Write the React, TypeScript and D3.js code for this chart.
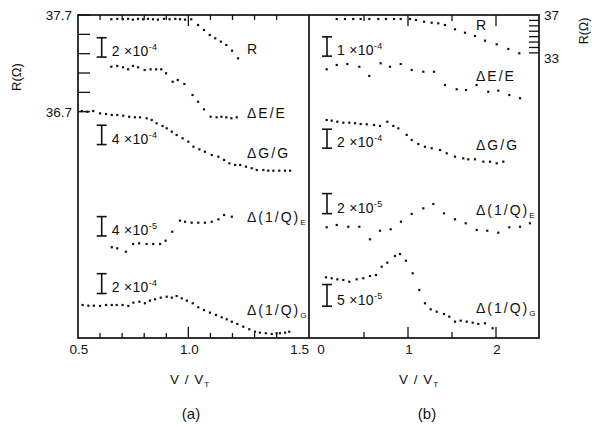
import React from "react";
import * as d3 from "d3";

// ---- Panel (a): x = V/VT, y plotted in R(Ω) axis units (curves stacked) ----
const aR_x = [0.651,0.678,0.704,0.727,0.749,0.772,0.795,0.817,0.840,0.862,0.890,0.915,0.941,0.962,0.985,1.013,1.044,1.071,1.097,1.122,1.147,1.172,1.198,1.225];
const aR_y = [37.656,37.660,37.656,37.660,37.652,37.660,37.656,37.660,37.656,37.652,37.660,37.656,37.660,37.656,37.652,37.656,37.597,37.545,37.493,37.459,37.424,37.390,37.331,37.252];

const aE_x = [0.651,0.678,0.704,0.727,0.749,0.772,0.802,0.829,0.854,0.877,0.899,0.929,0.952,0.982,1.019,1.044,1.071,1.101,1.128,1.150,1.172,1.195,1.219];
const aE_y = [37.165,37.173,37.159,37.138,37.173,37.159,37.131,37.138,37.138,37.138,37.097,37.010,37.028,36.986,36.873,36.803,36.725,36.648,36.642,36.648,36.642,36.632,36.642];

const aG_x = [0.517,0.542,0.569,0.600,0.627,0.653,0.678,0.705,0.732,0.758,0.781,0.811,0.834,0.856,0.883,0.902,0.925,0.947,0.974,1.000,1.023,1.050,1.075,1.106,1.136,1.162,1.186,1.212,1.235,1.261,1.287,1.310,1.340,1.362,1.385,1.412,1.438,1.461];
const aG_y = [36.707,36.700,36.707,36.683,36.676,36.666,36.666,36.659,36.648,36.642,36.642,36.632,36.614,36.580,36.552,36.528,36.493,36.459,36.425,36.390,36.338,36.311,36.286,36.252,36.235,36.201,36.166,36.149,36.149,36.131,36.115,36.097,36.097,36.090,36.090,36.090,36.090,36.090];

const aQE_x = [0.653,0.678,0.717,0.750,0.777,0.811,0.841,0.872,0.897,0.927,0.962,0.985,1.015,1.045,1.075,1.106,1.136,1.162,1.197];
const aQE_y = [35.298,35.287,35.252,35.332,35.339,35.332,35.332,35.332,35.366,35.459,35.573,35.562,35.552,35.552,35.552,35.562,35.587,35.632,35.614];

const aQG_x = [0.521,0.547,0.572,0.600,0.627,0.653,0.675,0.702,0.728,0.751,0.778,0.803,0.826,0.849,0.875,0.902,0.925,0.947,0.970,0.993,1.020,1.045,1.071,1.098,1.125,1.151,1.174,1.197,1.222,1.249,1.276,1.302,1.324,1.351,1.378,1.400,1.415,1.438,1.457];
const aQG_y = [34.701,34.694,34.694,34.691,34.701,34.701,34.701,34.701,34.691,34.725,34.735,34.719,34.746,34.760,34.777,34.787,34.777,34.794,34.770,34.746,34.719,34.677,34.649,34.622,34.598,34.574,34.553,34.528,34.505,34.477,34.450,34.425,34.415,34.409,34.401,34.409,34.409,34.415,34.425];

// ---- Panel (b) ----
const bR_x = [0.190,0.284,0.378,0.462,0.560,0.663,0.750,0.841,0.917,1.023,1.091,1.182,1.269,1.344,1.420,1.534,1.648,1.761,1.875,2.008,2.140,2.265];
const bR_y = [36.630,36.630,36.630,36.630,36.630,36.630,36.630,36.630,36.630,36.630,36.538,36.381,36.289,36.233,36.076,35.679,35.365,35.060,34.626,34.293,33.859,33.462];

const bE_x = [0.076,0.190,0.311,0.447,0.560,0.690,0.795,0.917,1.042,1.174,1.295,1.420,1.553,1.659,1.780,1.912,2.026,2.151,2.273];
const bE_y = [31.98,32.38,32.47,32.22,31.37,32.54,32.22,32.47,31.92,31.76,31.76,30.53,30.14,30.07,30.53,29.91,30.01,29.61,29.31];

const bG_x = [0.076,0.133,0.197,0.265,0.333,0.398,0.462,0.531,0.614,0.682,0.765,0.833,0.890,0.985,1.042,1.117,1.193,1.269,1.364,1.440,1.534,1.628,1.685,1.761,1.856,1.932,2.008,2.083];
const bG_y = [27.30,27.24,27.14,27.05,27.05,27.00,26.93,26.90,26.84,26.75,27.14,26.75,26.53,25.92,25.45,25.08,24.83,24.69,24.53,24.22,23.91,23.76,23.67,23.67,23.45,23.45,23.30,23.45];

const bQE_x = [0.076,0.190,0.322,0.447,0.568,0.682,0.803,0.920,1.042,1.174,1.288,1.409,1.534,1.656,1.781,1.901,2.026,2.151,2.273,2.386];
const bQE_y = [17.39,17.60,17.44,17.44,16.28,17.07,17.20,17.91,18.62,19.14,19.54,18.68,18.13,17.76,17.14,17.07,16.89,17.39,17.44,17.76];

const bQG_x = [0.068,0.133,0.197,0.265,0.333,0.417,0.492,0.568,0.636,0.701,0.765,0.852,0.909,0.977,1.053,1.128,1.193,1.258,1.326,1.409,1.469,1.534,1.599,1.667,1.735,1.799,1.875,1.962];
const bQG_y = [12.77,12.68,12.58,12.52,12.36,12.58,12.68,12.89,12.98,13.75,14.12,14.74,14.92,14.30,13.14,11.60,10.37,9.81,9.59,9.38,9.13,8.67,8.76,8.67,8.58,8.46,8.52,8.06];

// tick labels
const aXTickLabels = ["0.5", "1.0", "1.5"];
const aXTickValues = [0.5, 1.0, 1.5];
const bXTickLabels = ["0", "1", "2"];
const bXTickValues = [0, 1, 2];
const aYTickLabels = ["37.7", "36.7"];
const aYTickValues = [37.7, 36.7];
const bYTickLabels = ["37", "33"];
const bYTickValues = [37, 33];

// scale-bar annotations: [label mantissa, exponent], bar top/bottom in axis units
const aBars = [
  { m: "2", e: "-4", top: 37.465, bot: 37.265 },
  { m: "4", e: "-4", top: 36.560, bot: 36.360 },
  { m: "4", e: "-5", top: 35.615, bot: 35.415 },
  { m: "2", e: "-4", top: 35.025, bot: 34.820 },
];
const bBars = [
  { m: "1", e: "-4", top: 34.98, bot: 33.20 },
  { m: "2", e: "-4", top: 26.45, bot: 24.70 },
  { m: "2", e: "-5", top: 20.50, bot: 18.65 },
  { m: "5", e: "-5", top: 12.10, bot: 10.10 },
];
const aLabels = [
  { t: "R", y: 37.30 },
  { t: "ΔE/E", y: 36.63 },
  { t: "ΔG/G", y: 36.22 },
  { t: "Δ(1/Q)", sub: "E", y: 35.56 },
  { t: "Δ(1/Q)", sub: "G", y: 34.60 },
];
const bLabels = [
  { t: "R", y: 35.65 },
  { t: "ΔE/E", y: 30.90 },
  { t: "ΔG/G", y: 24.50 },
  { t: "Δ(1/Q)", sub: "E", y: 18.50 },
  { t: "Δ(1/Q)", sub: "G", y: 9.50 },
];

const FONT = "'Liberation Sans', Arial, sans-serif";

export default function App() {
  const W = 592, H = 427;
  const top = 15, bottom = 338, left = 78, mid = 309, right = 539;

  const xa = d3.scaleLinear().domain([0.5, 1.5]).range([78, 298.7]);
  const xb = d3.scaleLinear().domain([0, 2]).range([320, 496]);
  const ya = d3.scaleLinear().domain([36.7, 37.7]).range([111.7, 15]);
  const yb = d3.scaleLinear().domain([33, 37]).range([58.3, 15]);

  const aSeries = [[aR_x, aR_y], [aE_x, aE_y], [aG_x, aG_y], [aQE_x, aQE_y], [aQG_x, aQG_y]];
  const bSeries = [[bR_x, bR_y], [bE_x, bE_y], [bG_x, bG_y], [bQE_x, bQE_y], [bQG_x, bQG_y]];

  const aTicks = d3.range(6, 15).map((i) => i / 10);
  const bTicks = d3.range(1, 5).map((i) => i / 2);
  const aYTicks = d3.range(0, 5).map((i) => 36.9 + i * 0.2).concat([36.7]);
  const bYTicks = d3.range(1, 8).map((i) => 33 + i * 0.5);

  const stroke = "#111";
  const sw = 1.7;

  const dots = (series, x, y) =>
    series.flatMap(([xs, ys], si) =>
      xs.map((v, i) => (
        <rect key={`${si}-${i}`} x={x(v) - 1.1} y={y(ys[i]) - 1.1} width={2.2} height={2.2} fill="#111" />
      ))
    );

  const bars = (list, x0, y) =>
    list.map((b, i) => {
      const y1 = y(b.top), y2 = y(b.bot);
      return (
        <g key={i}>
          <line x1={x0} x2={x0} y1={y1} y2={y2} stroke={stroke} strokeWidth={1.6} />
          <line x1={x0 - 5} x2={x0 + 5} y1={y1} y2={y1} stroke={stroke} strokeWidth={1.6} />
          <line x1={x0 - 5} x2={x0 + 5} y1={y2} y2={y2} stroke={stroke} strokeWidth={1.6} />
          <text x={x0 + 10} y={y2 - 1} fontSize={14} fontFamily={FONT} fill="#111" letterSpacing={0.3}>
            {b.m + " ×10"}
            <tspan dy={-6} fontSize={9}>{b.e}</tspan>
          </text>
        </g>
      );
    });

  const labels = (list, x0, y) =>
    list.map((l, i) => (
      <text key={i} x={x0} y={y(l.y)} fontSize={14} fontFamily={FONT} fill="#111" letterSpacing={2}>
        {l.t}
        {l.sub ? <tspan dy={3} fontSize={8}>{l.sub}</tspan> : null}
      </text>
    ));

  return (
    <svg width={W} height={H} style={{ position: "absolute", left: 0, top: 0, background: "#fff" }}>
      <rect x={0} y={0} width={W} height={H} fill="#fff" />
      {/* frame */}
      <rect x={left} y={top} width={right - left} height={bottom - top} fill="none" stroke={stroke} strokeWidth={sw} />
      <line x1={mid} x2={mid} y1={top} y2={bottom} stroke={stroke} strokeWidth={sw} />

      {/* panel a x ticks (top and bottom) */}
      {aTicks.map((t) => {
        const major = Math.abs(t - 1) < 1e-6 || Math.abs(t - 1.5) < 1e-6;
        const len = major ? 11 : 5;
        return (
          <g key={t}>
            <line x1={xa(t)} x2={xa(t)} y1={bottom} y2={bottom - len} stroke={stroke} strokeWidth={1.3} />
            <line x1={xa(t)} x2={xa(t)} y1={top} y2={top + len} stroke={stroke} strokeWidth={1.3} />
          </g>
        );
      })}
      {/* panel b x ticks */}
      {bTicks.map((t) => {
        const major = Math.abs(t - Math.round(t)) < 1e-6;
        const len = major ? 11 : 6;
        return (
          <g key={t}>
            <line x1={xb(t)} x2={xb(t)} y1={bottom} y2={bottom - len} stroke={stroke} strokeWidth={1.3} />
            <line x1={xb(t)} x2={xb(t)} y1={top} y2={top + len} stroke={stroke} strokeWidth={1.3} />
          </g>
        );
      })}
      {/* left y ticks */}
      {aYTicks.map((t) => (
        <line key={t} x1={left} x2={left + 12} y1={ya(t)} y2={ya(t)} stroke={stroke} strokeWidth={1.3} />
      ))}
      {/* right y ticks */}
      {bYTicks.map((t) => (
        <line key={t} x1={right} x2={right - 10} y1={yb(t)} y2={yb(t)} stroke={stroke} strokeWidth={1.3} />
      ))}

      {/* tick labels */}
      {aXTickValues.map((v, i) => (
        <text key={i} x={xa(v) + 1} y={354} fontSize={13.5} fontFamily={FONT} textAnchor="middle" fill="#111">{aXTickLabels[i]}</text>
      ))}
      {bXTickValues.map((v, i) => (
        <text key={i} x={xb(v) + 1} y={354} fontSize={13.5} fontFamily={FONT} textAnchor="middle" fill="#111">{bXTickLabels[i]}</text>
      ))}
      {aYTickValues.map((v, i) => (
        <text key={i} x={72} y={ya(v) + 5} fontSize={13.5} fontFamily={FONT} textAnchor="end" fill="#111">{aYTickLabels[i]}</text>
      ))}
      {bYTickValues.map((v, i) => (
        <text key={i} x={544} y={yb(v) + 5} fontSize={13.5} fontFamily={FONT} textAnchor="start" fill="#111">{bYTickLabels[i]}</text>
      ))}

      {/* axis titles */}
      <text transform="translate(21,77) rotate(-90)" fontSize={13} fontFamily={FONT} textAnchor="middle" fill="#111">R(Ω)</text>
      <text transform="translate(588,31) rotate(-90)" fontSize={12.5} fontFamily={FONT} textAnchor="middle" fill="#111">R(Ω)</text>
      <text x={190} y={384} fontSize={13.5} fontFamily={FONT} textAnchor="middle" fill="#111" letterSpacing={1}>
        V / V<tspan dy={3} fontSize={8}>T</tspan>
      </text>
      <text x={419} y={384} fontSize={13.5} fontFamily={FONT} textAnchor="middle" fill="#111" letterSpacing={1}>
        V / V<tspan dy={3} fontSize={8}>T</tspan>
      </text>
      <text x={191} y={419} fontSize={15} fontFamily={FONT} textAnchor="middle" fill="#111">(a)</text>
      <text x={427} y={419} fontSize={15} fontFamily={FONT} textAnchor="middle" fill="#111">(b)</text>

      {/* scale bars */}
      {bars(aBars, 101.7, ya)}
      {bars(bBars, 327, yb)}

      {/* curve labels */}
      {labels(aLabels, 247, ya)}
      {labels(bLabels, 476, yb)}

      {/* data dots */}
      {dots(aSeries, xa, ya)}
      {dots(bSeries, xb, yb)}
    </svg>
  );
}
